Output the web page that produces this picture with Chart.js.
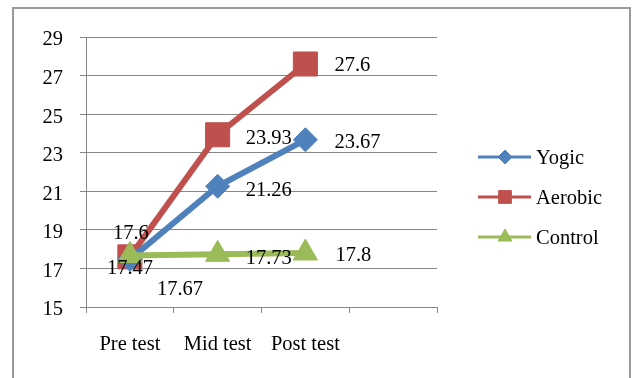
<!DOCTYPE html>
<html>
<head>
<meta charset="utf-8">
<script src="https://cdn.jsdelivr.net/npm/chart.js@4.4.1/dist/chart.umd.min.js"></script>
<style>
  html, body { margin: 0; padding: 0; background: #fff; }
  #wrap { width: 635px; height: 378px; }
</style>
</head>
<body>
<div id="wrap"><canvas id="line_chart" width="635" height="378"></canvas></div>
<script>
// DATA
const categories = ["Pre test", "Mid test", "Post test"];
const yogic = [17.47, 21.26, 23.67];
const aerobic = [17.6, 23.93, 27.6];
const control = [17.67, 17.73, 17.8];
const yTicks = [15, 17, 19, 21, 23, 25, 27, 29];

// label offsets from each point (dx to text start, dy)
const labelOffsets = {
	Yogic: [[-23, 9], [28, 4], [29, 3]],
	Aerobic: [[-17, -23], [28, 4], [29, 2]],
	Control: [[27, 34], [28, 4], [30, 3]]
};

const FONT = "'Liberation Serif', 'Times New Roman', serif";
const FSIZE = 20.5;
const GRID = "#868686";

Chart.defaults.font.family = FONT;
Chart.defaults.font.size = FSIZE;
Chart.defaults.color = "#000";

const ctx = document.getElementById("line_chart").getContext("2d");

// outer frame
const framePlugin = {
	id: "frame",
	beforeDraw(chart){
		const c = chart.ctx;
		c.save();
		c.fillStyle = "#fff";
		c.fillRect(0, 0, chart.width, chart.height);
		c.strokeStyle = "#9a9a9a";
		c.lineWidth = 2;
		c.strokeRect(13, 8, 617, 380);
		c.restore();
	}
};

// value labels next to points
const valueLabels = {
	id: "valueLabels",
	afterDatasetsDraw(chart){
		const c = chart.ctx;
		c.save();
		c.font = FSIZE + "px " + FONT;
		c.fillStyle = "#000";
		c.textAlign = "left";
		c.textBaseline = "middle";
		chart.data.datasets.forEach((ds, i) => {
			const meta = chart.getDatasetMeta(i);
			const offs = labelOffsets[ds.label];
			meta.data.forEach((pt, j) => {
				const v = ds.data[j];
				if(v === null || v === undefined) return;
				c.fillText(String(v), pt.x + offs[j][0], pt.y + offs[j][1]);
			});
		});
		c.restore();
	}
};

// excel style legend: line with marker
const sideLegend = {
	id: "sideLegend",
	afterDraw(chart){
		const c = chart.ctx;
		const items = ["Yogic", "Aerobic", "Control"];
		const ys = [157, 197, 237];
		const radii = { Yogic: 7, Aerobic: 9, Control: 8 };
		c.save();
		items.forEach((name, k) => {
			const ds = chart.data.datasets.find(d => d.label === name);
			const y = ys[k];
			c.strokeStyle = ds.borderColor;
			c.lineWidth = 3;
			c.beginPath();
			c.moveTo(478, y);
			c.lineTo(531, y);
			c.stroke();
			c.fillStyle = ds.backgroundColor;
			c.strokeStyle = ds.backgroundColor;
			c.lineWidth = 1;
			Chart.helpers.drawPoint(c, { pointStyle: ds.pointStyle, radius: radii[name], rotation: 0, borderWidth: 1 }, 505, y);
			c.fillStyle = "#000";
			c.font = FSIZE + "px " + FONT;
			c.textAlign = "left";
			c.textBaseline = "middle";
			c.fillText(name, 536, y + 2);
		});
		c.restore();
	}
};

const my_chart = new Chart(ctx, {
	type: "line",
	data: {
		labels: [...categories, ""],
		datasets: [{
			label: "Yogic",
			data: yogic,
			borderColor: "#4F81BD",
			backgroundColor: "#4F81BD",
			borderWidth: 6,
			pointStyle: "rectRot",
			pointRadius: 12,
			pointBorderWidth: 1,
			order: 1
		},{
			label: "Aerobic",
			data: aerobic,
			borderColor: "#C0504D",
			backgroundColor: "#C0504D",
			borderWidth: 6,
			pointStyle: "rect",
			pointRadius: 17,
			pointBorderWidth: 1,
			order: 2
		},{
			label: "Control",
			data: control,
			borderColor: "#9BBB59",
			backgroundColor: "#9BBB59",
			borderWidth: 6,
			pointStyle: "triangle",
			pointRadius: 14,
			pointBorderWidth: 1,
			order: 0
		}]
	},
	options: {
		responsive: false,
		animation: false,
		events: [],
		layout: { padding: { left: 0, right: 198, top: 37, bottom: 0 } },
		plugins: {
			legend: { display: false },
			tooltip: { enabled: false }
		},
		scales: {
			x: {
				offset: true,
				grid: { offset: true, drawOnChartArea: false, drawTicks: true, tickLength: 6, color: GRID },
				border: { display: true, color: GRID, width: 1 },
				ticks: { padding: 19, maxRotation: 0, autoSkip: false },
				afterFit(scale){ scale.height = 71; }
			},
			y: {
				min: 15,
				max: 29,
				afterBuildTicks(scale){ scale.ticks = yTicks.map(v => ({ value: v })); },
				grid: { color: GRID, tickLength: 6 },
				border: { display: true, color: GRID, width: 1 },
				ticks: { padding: 17, labelOffset: 3 },
				afterFit(scale){ scale.width = 86; }
			}
		}
	},
	plugins: [framePlugin, valueLabels, sideLegend]
});
</script>
</body>
</html>
